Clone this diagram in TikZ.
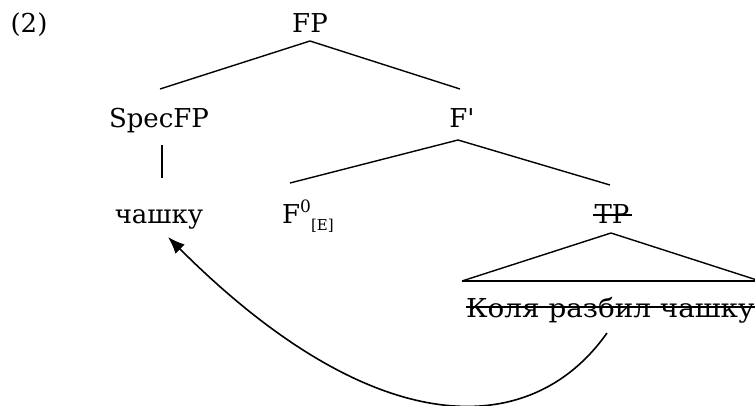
\documentclass[tikz,border=0pt]{standalone}
\usepackage{fontspec}
\setmainfont{DejaVu Serif}
\usetikzlibrary{arrows.meta}
\begin{document}
\begin{tikzpicture}[x=1pt,y=-1pt,
  lab/.style={inner sep=0pt,anchor=base,font=\fontsize{26}{30}\selectfont},
  br/.style={line width=1.4pt},
  strike/.style={line width=1.5pt},
  mv/.style={line width=1.6pt,-{Latex[length=17pt,width=13pt]}}]
\useasboundingbox (0,0) rectangle (755,405);
\node[lab] (ex) at (29,32) {(2)};
\node[lab] (fp) at (310,32) {FP};
\node[lab] (spec) at (159,127) {SpecFP};
\node[lab] (fbar) at (462,127) {F\textquotesingle};
\node[lab] (cup) at (159,223) {чашку};
\node[lab,anchor=base west] (f0) at (282,223) {F\raisebox{0.42em}{\fontsize{17}{19}\selectfont 0}\raisebox{-0.3em}{\fontsize{15}{17}\selectfont [E]}};
\node[lab] (tp) at (612,223) {TP};
\node[lab,anchor=base west] (s) at (466,317) {\scalebox{1.07}[1]{Коля разбил чашку}};
\coordinate (fpb) at (310,41);
\coordinate (specT) at (160,89);
\coordinate (fbarT) at (460,89);
\coordinate (specB) at (162,145);
\coordinate (cupT) at (162,178);
\coordinate (fbarB) at (458,140);
\coordinate (f0T) at (290,183);
\coordinate (tpT) at (610,185);
\coordinate (apex) at (611,233);
\coordinate (bl) at (462,281);
\coordinate (brr) at (760,281);
\coordinate (tpS1) at (593,215);
\coordinate (tpS2) at (632,215);
\coordinate (sS1) at (466,307);
\coordinate (sS2) at (760,307);
\draw[br] (fpb) -- (specT);
\draw[br] (fpb) -- (fbarT);
\draw[br] (specB) -- (cupT);
\draw[br] (fbarB) -- (f0T);
\draw[br] (fbarB) -- (tpT);
\draw[br] (bl) -- (apex) -- (brr);
\draw[line width=2pt] (bl) -- (brr);
\draw[strike] (tpS1) -- (tpS2);
\draw[strike] (sS1) -- (sS2);
\coordinate (mvS) at (607,333);
\coordinate (mvE) at (168,237);
\draw[mv] (mvS) .. controls (530,442) and (373,442) .. (mvE);
\end{tikzpicture}
\end{document}
